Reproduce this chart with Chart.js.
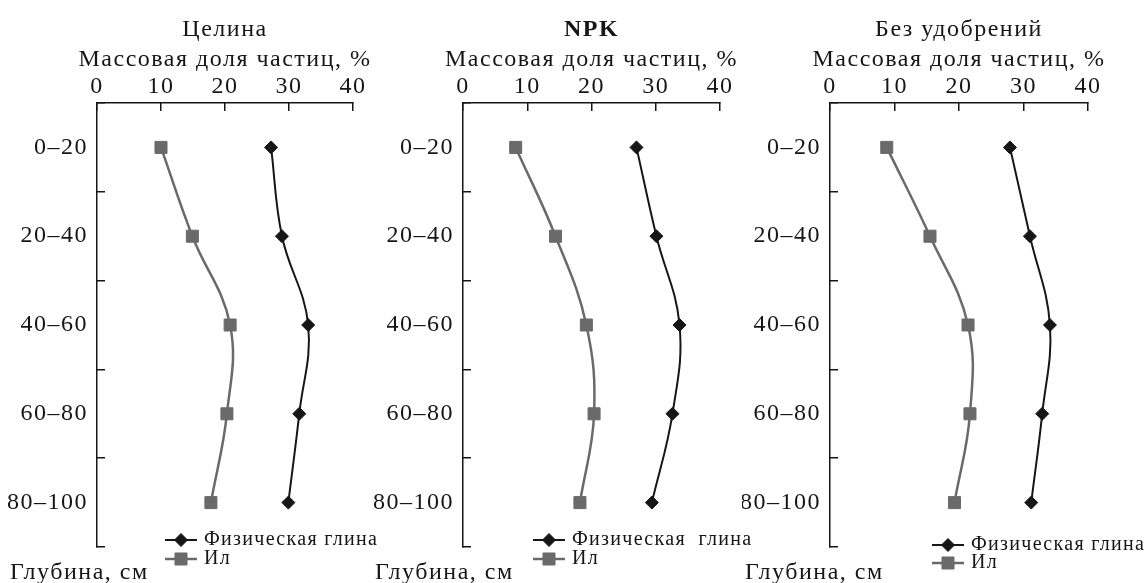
<!DOCTYPE html>
<html><head><meta charset="utf-8">
<script src="https://cdn.jsdelivr.net/npm/chart.js@4/dist/chart.umd.min.js"></script>
<style>
html,body{margin:0;padding:0;background:#fff;}
body{width:1146px;height:583px;position:relative;overflow:hidden;}
canvas{position:absolute;top:0;}
</style></head><body>
<canvas id="c1" width="380" height="583" style="left:0px"></canvas>
<canvas id="c2" width="380" height="583" style="left:372px"></canvas>
<canvas id="c3" width="404" height="583" style="left:742px"></canvas>
<script>
// ---- data ----
const depthLabels = ['0–20', '20–40', '40–60', '60–80', '80–100'];
const valueTicks = [0, 10, 20, 30, 40];
const panelTitles = ['Целина', 'NPK', 'Без удобрений'];
const seriesNames = ['Физическая глина', 'Ил'];
const axisTitle = 'Массовая доля частиц, %';
const depthTitle = 'Глубина, см';
const clayTselina = [27.2, 28.9, 33.0, 31.6, 29.9];
const siltTselina = [10.0, 14.9, 20.8, 20.3, 17.8];
const clayNPK = [27.0, 30.1, 33.7, 32.6, 29.4];
const siltNPK = [8.2, 14.4, 19.2, 20.4, 18.2];
const clayNoFert = [27.9, 31.0, 34.1, 32.9, 31.2];
const siltNoFert = [8.8, 15.5, 21.4, 21.7, 19.3];

// ---- styles / layout ----
const FAMILY = "'Liberation Serif', 'Times New Roman', serif";
const INK = '#161616';
const GREY = '#6a6a6a';
Chart.defaults.font.family = FAMILY;
Chart.defaults.color = INK;

const panels = [
  {id: 'c1', title: panelTitles[0], bold: false, clay: clayTselina, silt: siltTselina, yw: 97, pr: 27, legX: 68, legY: [540, 559], depthX: 10, wideGap: false},
  {id: 'c2', title: panelTitles[1], bold: true, clay: clayNPK, silt: siltNPK, yw: 91, pr: 32, legX: 70, legY: [540, 559], depthX: 3, wideGap: true},
  {id: 'c3', title: panelTitles[2], bold: false, clay: clayNoFert, silt: siltNoFert, yw: 88, pr: 58, legX: 102, legY: [545, 563], depthX: 3, wideGap: false}
];

function drawMarker(ctx, style, r, x, y) {
  if (Chart.helpers && Chart.helpers.drawPoint) {
    Chart.helpers.drawPoint(ctx, {pointStyle: style, radius: r, borderWidth: 1, rotation: 0}, x, y);
    return;
  }
  ctx.beginPath();
  if (style === 'rectRot') {
    ctx.moveTo(x, y - r); ctx.lineTo(x + r, y); ctx.lineTo(x, y + r); ctx.lineTo(x - r, y); ctx.closePath();
  } else {
    const s = r * Math.SQRT1_2; ctx.rect(x - s, y - s, 2 * s, 2 * s);
  }
  ctx.fill(); ctx.stroke();
}

const decor = {
  id: 'decor',
  beforeUpdate(chart) { chart.ctx.letterSpacing = '1.5px'; },
  beforeDraw(chart) { chart.ctx.letterSpacing = '1.5px'; },
  afterDraw(chart, args, o) {
    const ctx = chart.ctx, a = chart.chartArea;
    const cx = (a.left + a.right) / 2;
    ctx.save();
    ctx.letterSpacing = '1.5px';
    ctx.fillStyle = INK;
    ctx.textBaseline = 'middle';
    ctx.textAlign = 'center';
    ctx.font = (o.bold ? 'bold ' : '') + '24px ' + FAMILY;
    ctx.fillText(o.title, cx, 30);
    ctx.font = '24px ' + FAMILY;
    ctx.fillText(axisTitle, cx, 60);
    ctx.textAlign = 'left';
    ctx.fillText(depthTitle, o.depthX, 573);
    ctx.font = '20px ' + FAMILY;
    ctx.letterSpacing = '1.3px';
    chart.data.datasets.forEach((ds, i) => {
      const y = o.legY[i], x0 = a.left + o.legX;
      ctx.strokeStyle = ds.borderColor; ctx.lineWidth = ds.borderWidth;
      ctx.beginPath(); ctx.moveTo(x0, y); ctx.lineTo(x0 + 32, y); ctx.stroke();
      ctx.fillStyle = ds.pointBackgroundColor; ctx.strokeStyle = ds.pointBorderColor; ctx.lineWidth = 1;
      drawMarker(ctx, ds.pointStyle, ds.pointRadius, x0 + 16, y);
      ctx.fillStyle = INK;
      const txt = (o.wideGap && i === 0) ? ds.label.replace(' ', '  ') : ds.label;
      ctx.fillText(txt, x0 + 39, y);
    });
    ctx.restore();
  }
};

panels.forEach(p => {
  new Chart(document.getElementById(p.id), {
    type: 'line',
    data: {
      labels: depthLabels,
      datasets: [
        {label: seriesNames[0], data: p.clay, borderColor: INK, backgroundColor: INK,
         pointBackgroundColor: INK, pointBorderColor: INK, borderWidth: 2,
         pointStyle: 'rectRot', pointRadius: 6.5, pointBorderWidth: 1, tension: 0.4, fill: false},
        {label: seriesNames[1], data: p.silt, borderColor: GREY, backgroundColor: GREY,
         pointBackgroundColor: GREY, pointBorderColor: GREY, borderWidth: 2.5,
         pointStyle: 'rect', pointRadius: 8.5, pointBorderWidth: 1, tension: 0.4, fill: false}
      ]
    },
    options: {
      responsive: false,
      animation: false,
      indexAxis: 'y',
      layout: {padding: {left: 0, right: p.pr, top: 0, bottom: 36}},
      plugins: {legend: {display: false}, tooltip: {enabled: false}, title: {display: false}, decor: p},
      scales: {
        x: {
          type: 'linear', position: 'top',
          min: valueTicks[0], max: valueTicks[valueTicks.length - 1],
          afterBuildTicks: s => { s.ticks = valueTicks.map(v => ({value: v})); },
          ticks: {padding: 9.6, color: INK, font: {size: 24, family: FAMILY}},
          border: {display: true, color: INK, width: 1.5},
          grid: {drawOnChartArea: false, drawTicks: true, tickLength: -8, color: INK, lineWidth: 1.5},
          title: {display: false},
          afterFit: s => { s.height = 103; }
        },
        y: {
          type: 'category', offset: true,
          ticks: {padding: 17, color: INK, font: {size: 24, family: FAMILY}},
          border: {display: true, color: INK, width: 1.5},
          grid: {drawOnChartArea: false, drawTicks: true, tickLength: -8, offset: true, color: INK, lineWidth: 1.5},
          afterFit: s => { s.width = p.yw; }
        }
      }
    },
    plugins: [decor]
  });
});
</script>
</body></html>
